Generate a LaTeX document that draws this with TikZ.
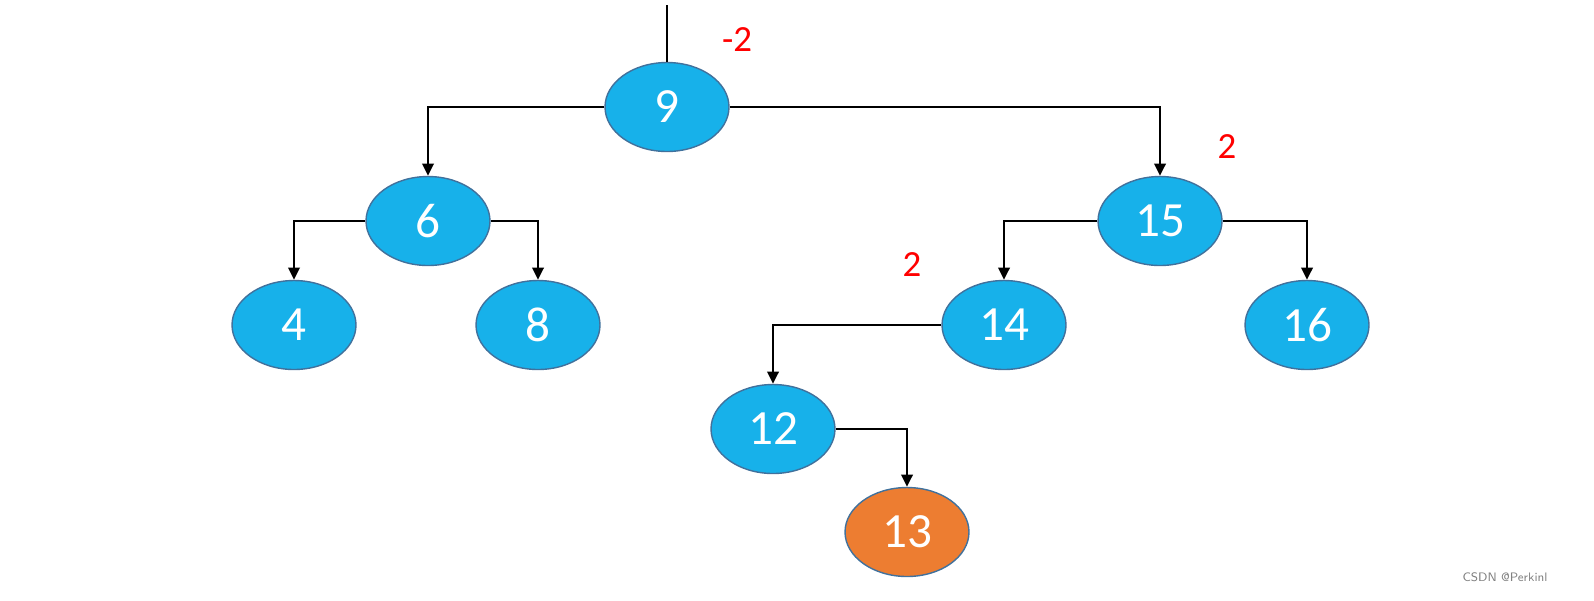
\documentclass[tikz,border=0pt]{standalone}
\usepackage{fontspec}
\setmainfont{Carlito}
\usetikzlibrary{arrows.meta}
\usetikzlibrary{shapes.geometric}

\definecolor{nodeblue}{HTML}{17B1EA}
\definecolor{nodeedge}{HTML}{41719C}
\definecolor{nodeorange}{HTML}{ED7D31}

\begin{document}
\begin{tikzpicture}[x=0.02cm, y=-0.02cm,
        avl/.style={ellipse, draw=nodeedge, line width=0.8pt, fill=nodeblue, text=white,
            minimum width=2.48cm, minimum height=1.78cm, inner sep=0pt, font=\fontsize{28}{30}\selectfont},
        added/.style={avl, fill=nodeorange},
        link/.style={line width=1.5pt, -{Triangle[length=7pt,width=6.5pt]}},
        bf/.style={text=red, font=\fontsize{21}{23}\selectfont}]
        \begin{scope}

            \useasboundingbox (0,0) rectangle (1594,600);

            % tree nodes
            \node[avl] (n9) at (667,107) {9};
            \node[avl] (n6) at (428,221) {6};
            \node[avl] (n15) at (1160,221) {15};
            \node[avl] (n4) at (294,325) {4};
            \node[avl] (n8) at (538,325) {8};
            \node[avl] (n14) at (1004,325) {14};
            \node[avl] (n16) at (1307,325) {16};
            \node[avl] (n12) at (773,429) {12};
            \node[added] (n13) at (907,532) {13};

            % balance factors
            \node[bf] (b9) at (737,40) {-2};
            \node[bf] (b15) at (1227,147) {2};
            \node[bf] (b14) at (912,265) {2};

            % parent link of the root
            \coordinate (up) at (667,5);
            \draw[line width=1.5pt] (n9) -- (up);

            \draw[link] (n9.west) -| (n6);
            \draw[link] (n9.east) -| (n15);
            \draw[link] (n6.west) -| (n4);
            \draw[link] (n6.east) -| (n8);
            \draw[link] (n15.west) -| (n14);
            \draw[link] (n15.east) -| (n16);
            \draw[link] (n14.west) -| (n12);
            \draw[link] (n12.east) -| (n13);

            \node[text=gray, font=\sffamily\fontsize{7}{8}\selectfont] (mark) at (1505,577) {CSDN @Perkinl};

        \end{scope}
    \end{tikzpicture}
\end{document}
